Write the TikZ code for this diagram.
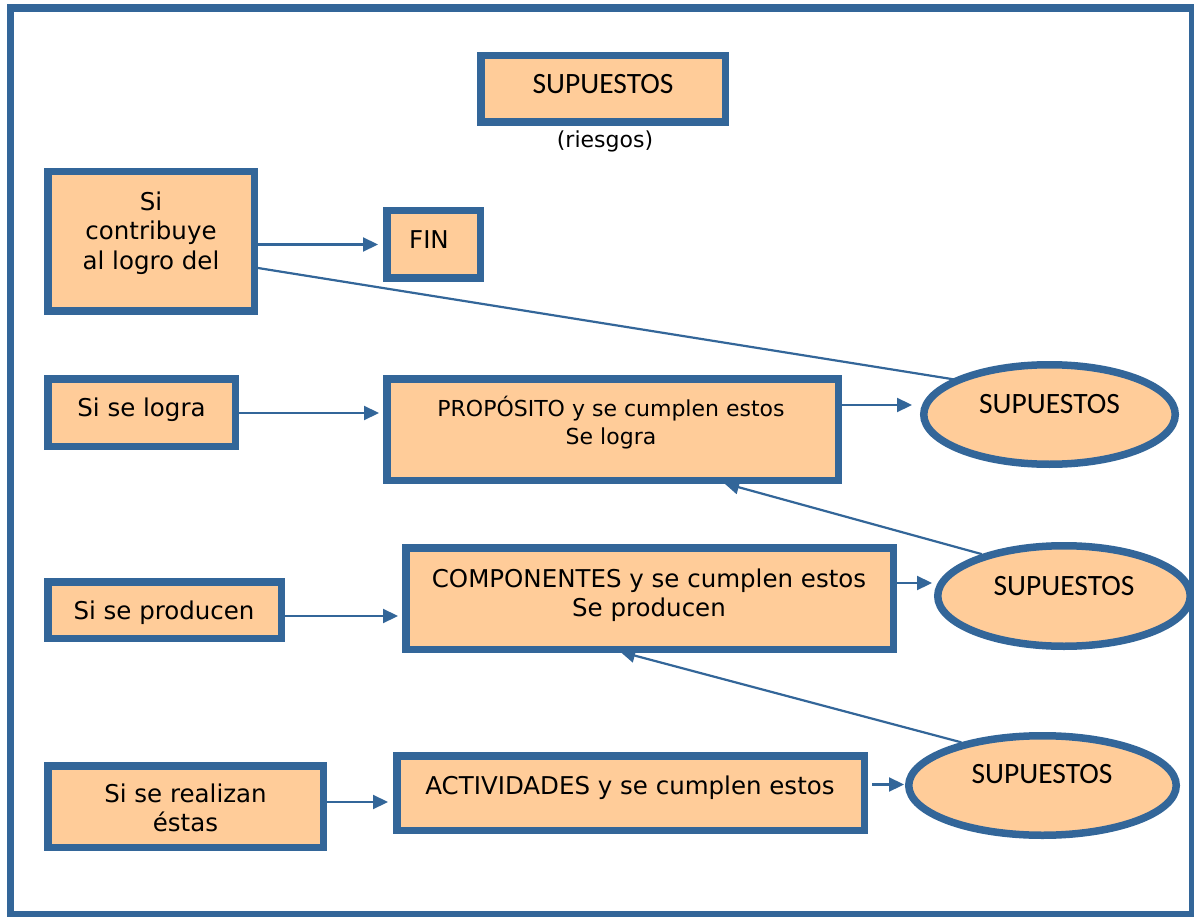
\documentclass[tikz,border=0pt]{standalone}
\usepackage{fontspec}
\setmainfont{DejaVu Sans}
\newfontfamily\calib{Carlito}
\usetikzlibrary{shapes.geometric,arrows.meta,calc}
\definecolor{frameblue}{RGB}{51,102,153}
\definecolor{peach}{RGB}{255,204,153}
\begin{document}
\begin{tikzpicture}[x=1pt,y=-1pt,
  boxnode/.style={draw=frameblue,fill=peach,line width=7.5pt,rectangle,inner sep=0pt},
  ellnode/.style={draw=frameblue,fill=peach,line width=7.5pt,ellipse,inner sep=0pt},
  txt/.style={font=\fontsize{24.5}{29.5}\selectfont,align=center,inner sep=0pt},
  smalltxt/.style={font=\fontsize{22}{28}\selectfont,align=center,inner sep=0pt},
  suptxt/.style={font=\calib\fontsize{29.5}{34}\selectfont,inner sep=0pt},
  conn/.style={draw=frameblue,line width=2.2pt,-{Triangle[length=15pt,width=14pt]}},
  plainconn/.style={draw=frameblue,line width=2.2pt}]
\useasboundingbox (0,0) rectangle (1194,917);
\fill[white] (0,0) rectangle (1194,917);
% outer frame
\draw[frameblue,line width=7.5pt] (10.5,8) rectangle (1192.5,915);

% boxes
\node[boxnode,minimum width=244.5pt,minimum height=66.5pt] (top) at (603,89) {};
\node[boxnode,minimum width=206.5pt,minimum height=139.5pt] (sc) at (151,241.5) {};
\node[boxnode,minimum width=93.5pt,minimum height=67.5pt] (fin) at (433.5,244.5) {};
\node[boxnode,minimum width=187.5pt,minimum height=67.5pt] (logra) at (141.5,412.5) {};
\node[boxnode,minimum width=451.5pt,minimum height=101.5pt] (prop) at (612.5,429.5) {};
\node[boxnode,minimum width=233.5pt,minimum height=56.5pt] (prod) at (164.5,610) {};
\node[boxnode,minimum width=487.5pt,minimum height=101.5pt] (comp) at (649.5,598.5) {};
\node[boxnode,minimum width=275.5pt,minimum height=81.5pt] (real) at (185.5,806.5) {};
\node[boxnode,minimum width=467.5pt,minimum height=74.5pt] (act) at (630.5,793) {};

% texts in boxes
\node[suptxt] (ttop) at (603,84) {SUPUESTOS};
\node[smalltxt] (riesgos) at (605,141) {(riesgos)};
\node[txt] (tsc) at (151,233) {Si\\contribuye\\al logro del};
\node[txt] (tfin) at (429,240) {FIN};
\node[txt] (tlogra) at (141.5,410) {Si se logra};
\node[smalltxt] (tprop) at (611,423) {PROPÓSITO y se cumplen estos\\Se logra};
\node[txt] (tprod) at (164,613) {Si se producen};
\node[txt] (tcomp) at (649,595) {COMPONENTES y se cumplen estos\\Se producen};
\node[txt] (treal) at (185.5,808) {Si se realizan\\éstas};
\node[txt] (tact) at (630,788) {ACTIVIDADES y se cumplen estos};

% line from "Si contribuye" to first SUPUESTOS (under the ellipse)
\coordinate (e1hit) at (964,381);
\draw[plainconn] ([yshift=-26.5pt]sc.east) -- (e1hit);

% ellipses
\node[ellnode,minimum width=251.5pt,minimum height=99.5pt] (e1) at (1049.5,414.5) {};
\node[ellnode,minimum width=252.5pt,minimum height=100.5pt] (e2) at (1064,596) {};
\node[ellnode,minimum width=267.5pt,minimum height=99.5pt] (e3) at (1042.5,785.5) {};
\node[suptxt] (te1) at (1049.5,404) {SUPUESTOS};
\node[suptxt] (te2) at (1064,586) {SUPUESTOS};
\node[suptxt] (te3) at (1042,774) {SUPUESTOS};

% horizontal connectors
\draw[conn,shorten >=5pt] (sc.east |- fin.west) -- (fin.west);
\coordinate (a1) at ([yshift=-0.5pt]logra.east);
\draw[conn,shorten >=4pt] (a1) -- (a1 -| prop.west);
\coordinate (a2) at ([yshift=-6pt]prod.east);
\draw[conn,shorten >=4pt] (a2) -- (a2 -| comp.west);
\coordinate (a3) at ([yshift=4.5pt]real.east);
\draw[conn,shorten >=5pt] (a3) -- (a3 -| act.west);
\coordinate (a4) at ([yshift=24.5pt]prop.east);
\draw[conn,shorten >=8pt] (a4) -- (a4 -| e1.west);
\coordinate (a5) at ([yshift=15.5pt]comp.east);
\draw[conn,shorten >=2pt] (a5) -- (a5 -| e2.west);
\coordinate (a6) at ([yshift=8.5pt]act.east);
\draw[conn,shorten <=4pt,shorten >=1pt] (a6) -- (a6 -| e3.west);

% diagonal connectors from ellipses back to boxes
\draw[conn,shorten >=-3pt] (e2.153) -- ([xshift=114.5pt]prop.south);
\draw[conn,shorten >=-5pt] (e3.152) -- ([xshift=-24.5pt]comp.south);
\end{tikzpicture}
\end{document}
